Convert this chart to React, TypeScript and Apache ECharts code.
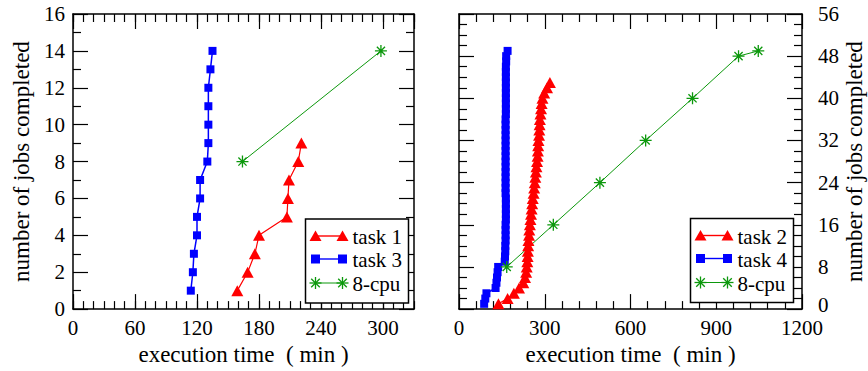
import React, { useEffect, useRef } from "react";
import * as echarts from "echarts";

const FONT = "'Liberation Serif', 'Times New Roman', Times, serif";
const RED = "#ff0000";
const BLUE = "#0000ff";
const GREEN = "#0c980c";

// ---------- left panel data ----------
const task1Time = [159, 169, 176, 180, 207, 208, 209, 218, 221];
const task1Jobs = [1, 2, 3, 4, 5, 6, 7, 8, 9];
const task3Time = [114, 116, 117, 120, 120, 123, 123, 130, 131, 131, 131, 131, 133, 135];
const task3Jobs = [1, 2, 3, 4, 5, 6, 7, 8, 9, 10, 11, 12, 13, 14];
const cpuLeftTime = [164, 298];
const cpuLeftJobs = [8, 14];

// ---------- right panel data ----------
const task2Time = [
  138, 170, 192, 210, 225, 231, 235, 237, 239, 240, 241, 242, 243, 245, 246, 248, 250, 252, 254, 256, 258,
  261, 263, 265, 267, 269, 271, 273, 275, 276, 277, 278, 280, 281, 282, 283, 285, 287, 289, 292, 298, 308, 318,
];
const task2Jobs = [
  1, 2, 3, 4, 5, 6, 7, 8, 9, 10, 11, 12, 13, 14, 15, 16, 17, 18, 19, 20, 21, 22, 23, 24, 25, 26, 27, 28, 29, 30,
  31, 32, 33, 34, 35, 36, 37, 38, 39, 40, 41, 42, 43,
];
const task4Time = [
  88, 92, 96, 128, 131, 133, 135, 137, 160, 161, 162, 162, 163, 163, 163, 163, 164, 164, 164, 164, 164, 163, 163,
  163, 163, 163, 163, 163, 163, 163, 163, 163, 163, 163, 163, 163, 164, 164, 164, 164, 164, 164, 164, 164, 164, 164,
  165, 165, 170,
];
const task4Jobs = [
  1, 2, 3, 4, 5, 6, 7, 8, 9, 10, 11, 12, 13, 14, 15, 16, 17, 18, 19, 20, 21, 22, 23, 24, 25, 26, 27, 28, 29, 30,
  31, 32, 33, 34, 35, 36, 37, 38, 39, 40, 41, 42, 43, 44, 45, 46, 47, 48, 49,
];
const cpuRightTime = [167, 330, 493, 653, 817, 978, 1047];
const cpuRightJobs = [8, 16, 24, 32, 40, 48, 49];

// ---------- tick labels ----------
const leftXTicks = [0, 60, 120, 180, 240, 300];
const leftXMax = 330;
const leftXMinorStep = 10;
const leftYTicks = [0, 2, 4, 6, 8, 10, 12, 14, 16];
const rightXTicks = [0, 300, 600, 900, 1200];
const rightYTicks = [0, 8, 16, 24, 32, 40, 48, 56];

const xTitle = "execution time  ( min )";
const yTitle = "number of jobs completed";

const STAR_PATH = "path://M0 5L10 5M5 0L5 10M1.6 1.6L8.4 8.4M8.4 1.6L1.6 8.4";

const pairs = (xs: number[], ys: number[]) => xs.map((x, i) => [x, ys[i]]);
const last = (a: number[]) => a[a.length - 1];

const labelStyle = { color: "#000", fontFamily: FONT, fontSize: 21, formatter: (v: number) => String(v) };
const nameStyle = { color: "#000", fontFamily: FONT, fontSize: 23 };

function axis(extra: any) {
  const { tickLen = 15, labels = false, line = true, minor, labelMargin = 8, maxLabel = true, minLabel = true, ...rest } = extra;
  return {
    type: "value",
    axisLine: { show: line, onZero: false, lineStyle: { color: "#000", width: 1.5 } },
    axisTick: { show: true, inside: true, length: tickLen, lineStyle: { color: "#000", width: 1.2 } },
    minorTick: minor
      ? { show: true, splitNumber: minor, length: 8, lineStyle: { color: "#000", width: 1.2 } }
      : { show: false },
    axisLabel: { show: labels, margin: labelMargin, showMaxLabel: maxLabel, showMinLabel: minLabel, ...labelStyle },
    splitLine: { show: false },
    ...rest,
  };
}

function legendGraphic(x0: number, y0: number, items: { label: string; color: string; marker: string }[]) {
  const els: any[] = [];
  els.push({
    type: "rect",
    z: 100,
    shape: { x: x0, y: y0, width: 103, height: 84 },
    style: { fill: "#fff", stroke: "#000", lineWidth: 1.5 },
  });
  const rows = [y0 + 17, y0 + 40, y0 + 64];
  items.forEach((it, i) => {
    const cy = rows[i];
    const xa = x0 + 10;
    const xb = x0 + 37;
    els.push({
      type: "line",
      z: 101,
      shape: { x1: xa, y1: cy, x2: xb, y2: cy },
      style: { stroke: it.color, lineWidth: it.marker === "star" ? 1 : 1.4 },
    });
    [xa, xb].forEach((cx) => {
      if (it.marker === "triangle") {
        els.push({
          type: "polygon",
          z: 102,
          shape: { points: [[cx - 6, cy + 5], [cx + 6, cy + 5], [cx, cy - 5.5]] },
          style: { fill: it.color },
        });
      } else if (it.marker === "square") {
        els.push({ type: "rect", z: 102, shape: { x: cx - 4.5, y: cy - 4.5, width: 9, height: 9 }, style: { fill: it.color } });
      } else {
        const r = 6;
        const d = 4.3;
        [
          [cx - r, cy, cx + r, cy],
          [cx, cy - r, cx, cy + r],
          [cx - d, cy - d, cx + d, cy + d],
          [cx + d, cy - d, cx - d, cy + d],
        ].forEach(([a, b, c, e]) =>
          els.push({ type: "line", z: 102, shape: { x1: a, y1: b, x2: c, y2: e }, style: { stroke: it.color, lineWidth: 1.3 } })
        );
      }
    });
    els.push({
      type: "text",
      z: 102,
      x: x0 + 47,
      y: cy + 1,
      style: { text: it.label, fill: "#000", fontFamily: FONT, fontSize: 21, verticalAlign: "middle", align: "left" },
    });
  });
  return els;
}

function triSeries(name: string, xs: number[], ys: number[], xi: number, yi: number) {
  return {
    type: "line",
    name,
    xAxisIndex: xi,
    yAxisIndex: yi,
    data: pairs(xs, ys),
    symbol: "triangle",
    symbolSize: [12, 11],
    itemStyle: { color: RED },
    lineStyle: { color: RED, width: 1.2 },
  };
}
function sqSeries(name: string, xs: number[], ys: number[], xi: number, yi: number) {
  return {
    type: "line",
    name,
    xAxisIndex: xi,
    yAxisIndex: yi,
    data: pairs(xs, ys),
    symbol: "rect",
    symbolSize: 8,
    itemStyle: { color: BLUE },
    lineStyle: { color: BLUE, width: 1.5 },
  };
}
function starSeries(name: string, xs: number[], ys: number[], xi: number, yi: number) {
  return {
    type: "line",
    name,
    xAxisIndex: xi,
    yAxisIndex: yi,
    data: pairs(xs, ys),
    symbol: STAR_PATH,
    symbolSize: 12,
    itemStyle: { color: "none", borderColor: GREEN, borderWidth: 1.3 },
    lineStyle: { color: GREEN, width: 1 },
  };
}

export default function App() {
  const ref = useRef<HTMLDivElement>(null);
  useEffect(() => {
    if (!ref.current) return;
    const chart = echarts.init(ref.current, undefined, { renderer: "svg" });
    const lxInt = leftXTicks[1] - leftXTicks[0];
    const lyInt = leftYTicks[1] - leftYTicks[0];
    const rxInt = rightXTicks[1] - rightXTicks[0];
    const ryInt = rightYTicks[1] - rightYTicks[0];
    const lx = { min: leftXTicks[0], max: leftXMax };
    const ly = { min: leftYTicks[0], max: last(leftYTicks), interval: lyInt };
    const rx = { min: rightXTicks[0], max: last(rightXTicks), interval: rxInt };
    const ry = { min: rightYTicks[0], max: last(rightYTicks), interval: ryInt };

    chart.setOption({
      animation: false,
      backgroundColor: "#fff",
      textStyle: { fontFamily: FONT },
      grid: [
        { left: 73, top: 14, width: 341, height: 299 },
        { left: 459, top: 14, width: 343, height: 299 },
      ],
      xAxis: [
        axis({
          gridIndex: 0, position: "bottom", ...lx, interval: lxInt, labels: true, maxLabel: false,
          name: xTitle, nameLocation: "middle", nameGap: 32, nameTextStyle: nameStyle,
        }),
        axis({ gridIndex: 0, position: "bottom", ...lx, interval: leftXMinorStep, tickLen: 8, line: false }),
        axis({ gridIndex: 0, position: "top", ...lx, interval: lxInt }),
        axis({ gridIndex: 0, position: "top", ...lx, interval: leftXMinorStep, tickLen: 8, line: false }),
        axis({
          gridIndex: 1, position: "bottom", ...rx, labels: true, minor: 5,
          name: xTitle, nameLocation: "middle", nameGap: 32, nameTextStyle: nameStyle,
        }),
        axis({ gridIndex: 1, position: "top", ...rx, minor: 5 }),
      ],
      yAxis: [
        axis({
          gridIndex: 0, position: "left", ...ly, labels: true, minor: 2,
          name: yTitle, nameLocation: "middle", nameGap: 40, nameRotate: 90, nameTextStyle: nameStyle,
        }),
        axis({ gridIndex: 0, position: "right", ...ly, minor: 2 }),
        axis({
          gridIndex: 1, position: "right", ...ry, labels: true, minor: 4, labelMargin: 16, minLabel: false,
          name: yTitle, nameLocation: "middle", nameGap: 35, nameRotate: 90, nameTextStyle: nameStyle,
        }),
        axis({ gridIndex: 1, position: "left", ...ry, minor: 4 }),
      ],
      series: [
        triSeries("task 1", task1Time, task1Jobs, 0, 0),
        sqSeries("task 3", task3Time, task3Jobs, 0, 0),
        starSeries("8-cpu", cpuLeftTime, cpuLeftJobs, 0, 0),
        triSeries("task 2", task2Time, task2Jobs, 4, 2),
        sqSeries("task 4", task4Time, task4Jobs, 4, 2),
        starSeries("8-cpu", cpuRightTime, cpuRightJobs, 4, 2),
      ],
      graphic: [
        {
          type: "text",
          x: 818,
          y: 305,
          style: { text: String(rightYTicks[0]), fill: "#000", fontFamily: FONT, fontSize: 21, verticalAlign: "middle", align: "left" },
        },
        ...legendGraphic(305.5, 219, [
          { label: "task 1", color: RED, marker: "triangle" },
          { label: "task 3", color: BLUE, marker: "square" },
          { label: "8-cpu", color: GREEN, marker: "star" },
        ]),
        ...legendGraphic(690.5, 218.5, [
          { label: "task 2", color: RED, marker: "triangle" },
          { label: "task 4", color: BLUE, marker: "square" },
          { label: "8-cpu", color: GREEN, marker: "star" },
        ]),
      ],
    });
    return () => chart.dispose();
  }, []);
  return (
    <div
      ref={ref}
      style={{ position: "fixed", left: 0, top: 0, width: 868, height: 371, background: "#fff" }}
    />
  );
}
